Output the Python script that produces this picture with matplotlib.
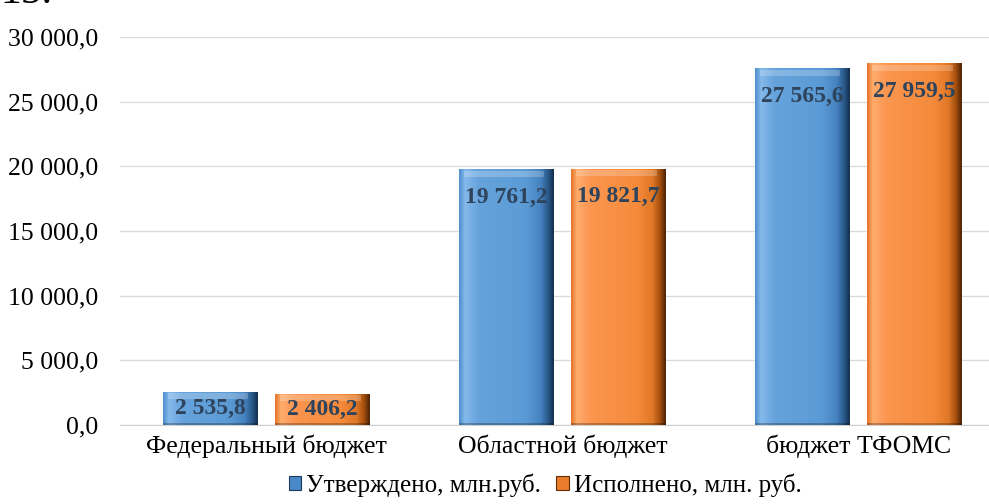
import numpy as np
import matplotlib.pyplot as plt
from matplotlib.colors import LinearSegmentedColormap
from matplotlib.patches import Rectangle

plt.rcParams['font.family'] = ['Liberation Serif', 'DejaVu Serif']

categories = ['Федеральный бюджет', 'Областной бюджет', 'бюджет ТФОМС']
approved = [2535.8, 19761.2, 27565.6]
executed = [2406.2, 19821.7, 27959.5]
series_names = ['Утверждено, млн.руб.', 'Исполнено, млн. руб.']
yticks = [0, 5000, 10000, 15000, 20000, 25000, 30000]


def fmt(v, dec=1):
    s = f'{v:,.{dec}f}'
    return s.replace(',', ' ').replace('.', ',')


blue_cmap = LinearSegmentedColormap.from_list(
    'b', [(0, '#4f8fce'), (0.06, '#86baea'), (0.2, '#66a3dc'), (0.7, '#5b9bd5'),
          (0.86, '#4683c0'), (0.94, '#2a5a8c'), (1, '#15304e')])
orange_cmap = LinearSegmentedColormap.from_list(
    'o', [(0, '#e4762a'), (0.06, '#ffac6c'), (0.2, '#fb9650'), (0.7, '#f58a3a'),
          (0.86, '#e07826'), (0.94, '#a44f0e'), (1, '#4e2405')])

fig = plt.figure(figsize=(9.89, 5.04), dpi=100)
ax = fig.add_axes([120 / 989, 1 - 425 / 504, 869 / 989, (425 - 37) / 504])

x = np.arange(len(categories))
w = 0.32
off = 0.19

def draw(xs, vals, base, cmap):
    bars = ax.bar(xs, vals, w, color=base, zorder=2)
    grad = np.linspace(0, 1, 200).reshape(1, -1)
    for b in bars:
        x0, y0 = b.get_x(), b.get_y()
        bw, bh = b.get_width(), b.get_height()
        im = ax.imshow(grad, cmap=cmap, aspect='auto', extent=(x0, x0 + bw, y0, y0 + bh),
                       zorder=3, interpolation='bicubic')
        im.set_clip_path(b)
        # bevel highlight at top, shadow at bottom
        ax.add_patch(Rectangle((x0 + bw * 0.05, y0 + bh - 550), bw * 0.85, 450,
                               color='white', alpha=0.22, lw=0, zorder=4))
        ax.add_patch(Rectangle((x0, y0), bw, 180, color='black', alpha=0.25, lw=0, zorder=4))
        ly = max(y0 + bh - 2150, y0 + bh / 2)
        ax.text(x0 + bw / 2, ly, fmt(bh), ha='center', va='center',
                fontsize=17, fontweight='bold', color='#2e435c', zorder=5)
    return bars

draw(x - off, approved, '#5b9bd5', blue_cmap)
draw(x + off, executed, '#f58a3a', orange_cmap)

ax.set_xlim(-0.495, 2.441)
ax.set_ylim(0, 30000)
ax.set_yticks(yticks)
ax.set_yticklabels([fmt(v) for v in yticks], fontsize=18.5)
ax.set_xticks(x)
ax.set_xticklabels(categories, fontsize=18.5)
ax.tick_params(length=0, pad=7)
ax.tick_params(axis='y', pad=16)
ax.grid(axis='y', color='#dcdcdc', lw=1, zorder=0)
for s in ['top', 'right', 'left']:
    ax.spines[s].set_visible(False)
ax.spines['bottom'].set_color('#d0d0d0')
ax.set_axisbelow(True)

h1 = Rectangle((0, 0), 1, 1, facecolor='#4a89c8', edgecolor='#1b3a5c', lw=0.8)
h2 = Rectangle((0, 0), 1, 1, facecolor='#e97c2a', edgecolor='#5e2c06', lw=0.8)
fig.legend([h1, h2], series_names, loc='center', bbox_to_anchor=(545 / 989, 1 - 485 / 504),
           ncol=2, frameon=False, fontsize=18, handlelength=0.5, handleheight=0.5,
           handletextpad=0.2, columnspacing=0.6)

fig.text(0.0, 1.015, '15.', fontsize=30, va='center', ha='left')

fig.savefig('out.png', dpi=100)
